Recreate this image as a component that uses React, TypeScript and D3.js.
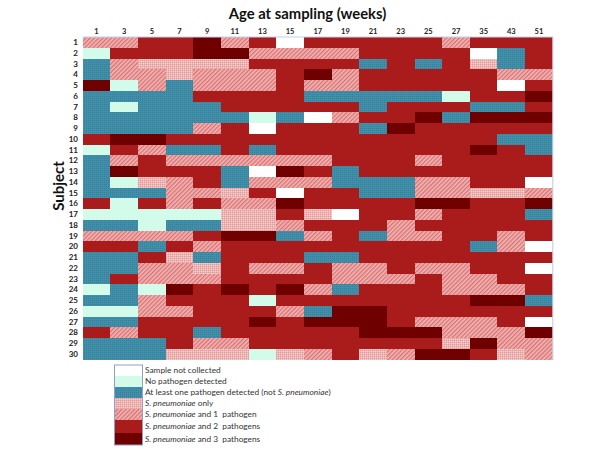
import React from "react";
import * as d3 from "d3";

const weeks = ["1","3","5","7","9","11","13","15","17","19","21","23","25","27","35","43","51"];
const subjects = d3.range(1, 31).map(String);

// N not collected, Z none, B other pathogen, O pneumo only, H +1, R +2, D +3
const statusBySubject = [
  "H H R R D H R N R R R R R H R R R",
  "Z R R R D D H H H H R R R R N B R",
  "B H O O O O R R R R B R B R O B R",
  "B H H O H H H R D H R R R R R H H",
  "D Z H B H H H R H H R R R R R N R",
  "B B B B R R R R B B B B B Z R R D",
  "B Z B B B R R R R R B R R R B B R",
  "B B B B B B Z B N H R R D B D D D",
  "B B B B H R N R R R B D R R R R R",
  "R D D R R R R R R R R R R R R B B",
  "Z R H B B R B R R R R R R R D R B",
  "B H R H H H H H H R R R H R R R R",
  "B D R R R B N D R B R R R R R R R",
  "B Z O H R B H H H B B B H H R R N",
  "B B B H H O R N R R B B H H O O H",
  "R Z R H R H H D R R R R D D R R D",
  "Z Z Z Z Z O O R O N R R H R R R B",
  "B B Z B B O O H R R R H R R R R R",
  "H H H H R D D B H R B H H R R H R",
  "R R B R H R R R R R R R R R B H N",
  "B B R O B R R R B B R R R R R R R",
  "B B H H O R H H R H H R H H R R N",
  "B R H H H R R R R H H H R H H R R",
  "Z B Z D R D R D H B R R R H H H R",
  "B B H R R R Z R R R R R R R D D B",
  "Z Z H H R R R H B D D R R R R R R",
  "B B R R R R D R D D D R H H H R N",
  "R H R R B R R R R R D D D H H H D",
  "B B B R H H R R R R R R R O D H H",
  "B B B O O O Z O H R O H D D R O H",
].map((s) => s.split(" "));

const legendCodes = ["N", "Z", "B", "O", "H", "R", "D"];
const legendBottoms = [376, 387, 398, 409, 420, 433, 445];
const fills: Record<string, string> = {
  N: "#ffffff",
  Z: "#d2fbe9",
  B: "url(#dots)",
  O: "url(#pink)",
  H: "url(#hatch)",
  R: "#aa1b1b",
  D: "#6f0000",
};

const italicSp = "S. pneumoniae";
const legendTexts: [string, string][] = [
  ["", "Sample not collected"],
  ["", "No pathogen detected"],
  ["", "At least one pathogen detected (not "],
  [italicSp, " only"],
  [italicSp, " and 1  pathogen"],
  [italicSp, " and 2  pathogens"],
  [italicSp, " and 3  pathogens"],
];

export default function App() {
  const x = d3.scaleBand<string>().domain(weeks).range([82.7, 552.8]);
  const y = d3.scaleBand<string>().domain(subjects).range([37, 359.5]);
  const font = "Lato, 'Open Sans', sans-serif";
  const tops = [365, ...legendBottoms.slice(0, -1)];
  return (
    <svg
      width={600}
      height={450}
      style={{ position: "absolute", left: 0, top: 0, background: "#fff" }}
      fontFamily={font}
    >
      <defs>
        <pattern id="dots" width="2" height="2" patternUnits="userSpaceOnUse">
          <rect width="2" height="2" fill="#418fa8" />
          <rect width="1" height="1" fill="#357f98" />
        </pattern>
        <pattern id="pink" width="2" height="2" patternUnits="userSpaceOnUse">
          <rect width="2" height="2" fill="#efb4b4" />
          <rect width="1" height="1" fill="#e59a9a" />
          <rect x="1" y="1" width="1" height="1" fill="#f6cfcf" />
        </pattern>
        <pattern id="hatch" width="3" height="3" patternUnits="userSpaceOnUse" patternTransform="rotate(45)">
          <rect width="3" height="3" fill="#efb6b6" />
          <rect width="1.3" height="3" fill="#dc7070" />
        </pattern>
      </defs>

      <text x={307.5} y={19} textAnchor="middle" fontSize={14.8} fontWeight={700} fill="#111">
        Age at sampling (weeks)
      </text>
      <text
        transform={`translate(64,186) rotate(-90)`}
        textAnchor="middle"
        fontSize={15}
        fontWeight={700}
        fill="#111"
      >
        Subject
      </text>

      {weeks.map((w) => (
        <text key={w} x={x(w)! + x.bandwidth() / 2} y={34} textAnchor="middle" fontSize={7.5} fontWeight={700} fill="#222">
          {w}
        </text>
      ))}
      {subjects.map((s) => (
        <text key={s} x={78} y={y(s)! + y.bandwidth() / 2 + 2.8} textAnchor="end" fontSize={8} fontWeight={700} fill="#222">
          {s}
        </text>
      ))}

      <g shapeRendering="crispEdges">
        {statusBySubject.map((row, i) =>
          row.map((code, j) => (
            <rect
              key={`${i}-${j}`}
              x={x(weeks[j])!}
              y={y(subjects[i])!}
              width={x.bandwidth() + 0.5}
              height={y.bandwidth() + 0.5}
              fill={fills[code]}
            />
          ))
        )}
      </g>
      <path d="M82.7 37H552.8V359.5" fill="none" stroke="#c5d2e8" strokeWidth={1.2} />

      {legendCodes.map((c, i) => (
        <g key={c}>
          <rect x={114.5} y={tops[i]} width={28} height={legendBottoms[i] - tops[i]} fill={fills[c]} shapeRendering="crispEdges" />
          <text x={145} y={(tops[i] + legendBottoms[i]) / 2 + 2.8} fontSize={8.3} fill="#333">
            {legendTexts[i][0] && <tspan fontStyle="italic">{legendTexts[i][0]}</tspan>}
            <tspan xmlSpace="preserve">{legendTexts[i][1]}</tspan>
            {i === 2 && <tspan fontStyle="italic">{italicSp}</tspan>}
            {i === 2 && <tspan>)</tspan>}
          </text>
        </g>
      ))}
      <rect x={114.5} y={365} width={28} height={80} fill="none" stroke="#8f9fca" strokeWidth={1} />
    </svg>
  );
}
